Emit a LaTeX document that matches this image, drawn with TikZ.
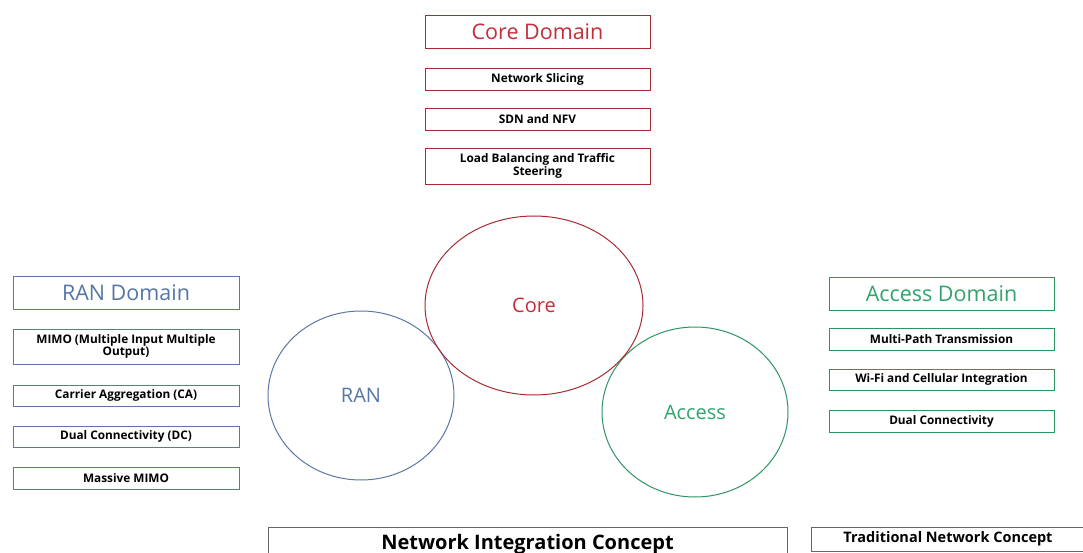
\documentclass[tikz,border=0pt]{standalone}
\usepackage{fontspec}
\setmainfont{Open Sans}
\usepackage{tikz}
\usetikzlibrary{shapes.geometric}
\definecolor{corered}{RGB}{196,45,58}
\definecolor{coreline}{RGB}{168,42,52}
\definecolor{ranblue}{RGB}{84,118,168}
\definecolor{ranline}{RGB}{92,118,165}
\definecolor{accgreen}{RGB}{48,164,108}
\definecolor{accline}{RGB}{46,148,100}
\newcommand{\labfont}{\fontsize{11.8}{13.5}\selectfont\bfseries}

\begin{document}
\begin{tikzpicture}[x=1pt,y=-1pt,
    block_head/.style ={rectangle, draw, line width=1pt, fill=white,
      minimum width=225pt, minimum height=33pt, inner sep=0pt,
      font=\fontsize{21.5}{24}\selectfont},
    block_item/.style ={rectangle, draw, line width=0.9pt, fill=white,
      minimum width=225pt, minimum height=22pt, inner sep=0pt,
      align=center, text=black, font=\labfont},
    block_plain/.style ={rectangle, draw=black!60, line width=0.9pt, fill=white,
      inner sep=0pt, text=black},
    circ_domain/.style ={ellipse, draw, line width=1pt, inner sep=0pt,
      font=\fontsize{20}{22}\selectfont}]
    \useasboundingbox (0,0) rectangle (1083,553);
    % core domain column
    \node [block_head, draw=coreline, text=corered] (corehead) at (537.5,32) {Core Domain};
    \node [block_item, draw=coreline] (slicing) at (537.5,79) {Network Slicing};
    \node [block_item, draw=coreline] (sdnnfv) at (537.5,119) {SDN and NFV};
    \node [block_item, draw=coreline, minimum height=36pt] (loadbal) at (537.5,166)
      {Load Balancing and Traffic\\[-1pt]Steering};
    % RAN domain column
    \node [block_head, draw=ranline, text=ranblue, minimum width=226pt] (ranhead) at (126,293) {RAN Domain};
    \node [block_item, draw=ranline, minimum width=226pt, minimum height=35pt] (mimo) at (126,346.5)
      {MIMO (Multiple Input Multiple\\[-1pt]Output)};
    \node [block_item, draw=ranline, minimum width=226pt, minimum height=21pt] (carrier) at (126,395.5) {Carrier Aggregation (CA)};
    \node [block_item, draw=ranline, minimum width=226pt, minimum height=21pt] (dualdc) at (126,436.5) {Dual Connectivity (DC)};
    \node [block_item, draw=ranline, minimum width=226pt] (massive) at (126,478) {Massive MIMO};
    % access domain column
    \node [block_head, draw=accline, text=accgreen] (acchead) at (941.5,293.5) {Access Domain};
    \node [block_item, draw=accline] (multipath) at (941.5,339) {Multi-Path Transmission};
    \node [block_item, draw=accline, minimum height=21pt] (wifi) at (941.5,379.5) {Wi-Fi and Cellular Integration};
    \node [block_item, draw=accline] (dualcon) at (941.5,421) {Dual Connectivity};
    % the three domains
    \node [circ_domain, draw=ranline, text=ranblue, minimum width=186pt, minimum height=169pt] (ran) at (361,395.5) {RAN};
    \node [circ_domain, draw=accline, text=accgreen, minimum width=186pt, minimum height=170pt] (access) at (695,412) {Access};
    \node [circ_domain, draw=coreline, text=corered, minimum width=218pt, minimum height=179pt] (core) at (534,305.5) {Core};
    % concepts
    \node [block_plain, minimum width=519pt, minimum height=34pt] (integration) at (527.5,544)
      {\fontsize{20}{22}\selectfont\bfseries\raisebox{4pt}{Network Integration Concept}};
    \node [block_plain, minimum width=274pt, minimum height=24pt] (traditional) at (948,539)
      {\fontsize{14.5}{16}\selectfont\bfseries Traditional Network Concept};
  \end{tikzpicture}
\end{document}
